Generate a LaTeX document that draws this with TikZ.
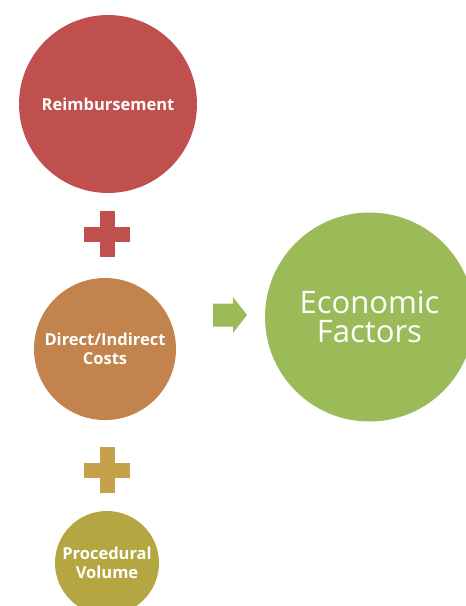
\documentclass[tikz,border=0pt]{standalone}
\usepackage{fontspec}
\setmainfont{Open Sans}
\definecolor{cred}{HTML}{C0504D}
\definecolor{corange}{HTML}{C2834D}
\definecolor{ctan}{HTML}{C6A04B}
\definecolor{colive}{HTML}{B4A640}
\definecolor{cgreen}{HTML}{9BBB59}
\tikzset{
  bubble/.style={circle, inner sep=0pt, text=white, align=center, font=\bfseries\fontsize{16.5}{18.5}\selectfont},
}
\begin{document}
\begin{tikzpicture}[x=1pt,y=-1pt]
\useasboundingbox (0,0) rectangle (466,606);
\clip (0,0) rectangle (466,606);
\node[bubble, fill=cred, minimum size=178pt] (reimb) at (108,104) {Reimbursement};
\node[bubble, fill=corange, minimum size=142pt] (costs) at (105,349) {Direct/Indirect\\Costs};
\node[bubble, fill=colive, minimum size=104pt] (vol) at (107,563) {Procedural\\Volume};
\node[circle, inner sep=0pt, fill=cgreen, minimum size=209pt, text=white, align=center,
      font=\fontsize{31}{29}\selectfont] (econ) at (369.5,317) {Economic\\Factors};
% plus signs
\coordinate (plusA) at (107,234);
\coordinate (plusB) at (107,470);
\fill[cred] ([xshift=-23pt,yshift=7.5pt]plusA) rectangle ([xshift=23pt,yshift=-7.5pt]plusA);
\fill[cred] ([xshift=-7.5pt,yshift=23pt]plusA) rectangle ([xshift=7.5pt,yshift=-23pt]plusA);
\fill[ctan] ([xshift=-23pt,yshift=7.5pt]plusB) rectangle ([xshift=23pt,yshift=-7.5pt]plusB);
\fill[ctan] ([xshift=-7.5pt,yshift=23pt]plusB) rectangle ([xshift=7.5pt,yshift=-23pt]plusB);
% arrow
\coordinate (arr) at (230,315);
\fill[cgreen] ([shift={(-17pt,-11.5pt)}]arr) -- ([shift={(3pt,-11.5pt)}]arr)
  -- ([shift={(3pt,-18pt)}]arr) -- ([shift={(17pt,0pt)}]arr) -- ([shift={(3pt,18pt)}]arr)
  -- ([shift={(3pt,11.5pt)}]arr) -- ([shift={(-17pt,11.5pt)}]arr) -- cycle;
\end{tikzpicture}
\end{document}
